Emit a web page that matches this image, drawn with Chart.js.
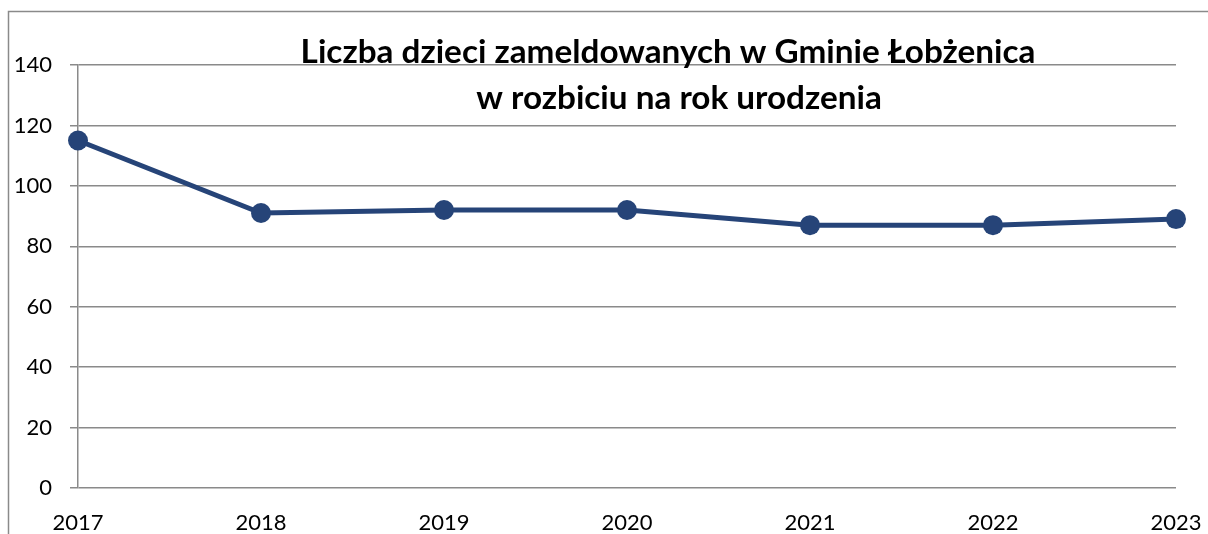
<!DOCTYPE html>
<html>
<head>
<meta charset="utf-8">
<script src="https://cdn.jsdelivr.net/npm/chart.js@4/dist/chart.umd.min.js"></script>
<style>
  html, body { margin: 0; padding: 0; background: #fff; }
  #wrap { position: relative; width: 1208px; height: 534px; }
  canvas { display: block; }
</style>
</head>
<body>
<div id="wrap"><canvas id="c" width="1208" height="534"></canvas></div>
<script>
const years = ['2017', '2018', '2019', '2020', '2021', '2022', '2023'];
const children = [115, 91, 92, 92, 87, 87, 89];
const titleLines = ['Liczba dzieci zameldowanych w Gminie Łobżenica', 'w rozbiciu na rok urodzenia'];
const yMin = 0, yMax = 140, yStep = 20;

const frame = {
  id: 'frame',
  beforeDraw(chart) {
    const ctx = chart.ctx;
    ctx.save();
    ctx.strokeStyle = '#8a8a8a';
    ctx.lineWidth = 1.5;
    ctx.beginPath();
    ctx.moveTo(8.5, 534);
    ctx.lineTo(8.5, 11.5);
    ctx.lineTo(1208, 11.5);
    ctx.stroke();
    ctx.restore();
  }
};

const titlePlugin = {
  id: 'innerTitle',
  afterDraw(chart) {
    const ctx = chart.ctx;
    ctx.save();
    ctx.fillStyle = '#000';
    ctx.textAlign = 'center';
    ctx.textBaseline = 'middle';
    ctx.font = 'bold 30px Lato';
    const w = ctx.measureText(titleLines[0]).width;
    const size = 30 * 735 / w;
    ctx.font = 'bold ' + size.toFixed(2) + 'px Lato';
    ctx.fillText(titleLines[0], 668, 52);
    ctx.fillText(titleLines[1], 679, 98);
    ctx.restore();
  }
};

new Chart(document.getElementById('c'), {
  type: 'line',
  data: {
    labels: years,
    datasets: [{
      data: children,
      borderColor: '#264478',
      backgroundColor: '#264478',
      borderWidth: 5,
      pointRadius: 10,
      pointHoverRadius: 10,
      pointBorderWidth: 0,
      tension: 0,
      fill: false
    }]
  },
  options: {
    responsive: false,
    animation: false,
    events: [],
    layout: { padding: { top: 65, right: 32, left: 0, bottom: 0 } },
    plugins: { legend: { display: false }, title: { display: false }, tooltip: { enabled: false } },
    scales: {
      x: {
        offset: false,
        grid: { display: false, drawTicks: false },
        border: { display: false },
        ticks: { color: '#000', font: { family: 'Lato', size: 22 }, padding: 22, maxRotation: 0, autoSkip: false },
        afterFit(s) { s.height = 46; s.paddingRight = 0; s.paddingLeft = 0; }
      },
      y: {
        min: yMin, max: yMax,
        grid: { color: '#8a8a8a', lineWidth: 1.5, tickLength: 8, drawTicks: true },
        border: { display: true, color: '#8a8a8a', width: 1.5 },
        ticks: { stepSize: yStep, color: '#000', font: { family: 'Lato', size: 22 }, padding: 18 },
        afterFit(s) { s.width = 78; }
      }
    }
  },
  plugins: [frame, titlePlugin]
});
</script>
</body>
</html>
